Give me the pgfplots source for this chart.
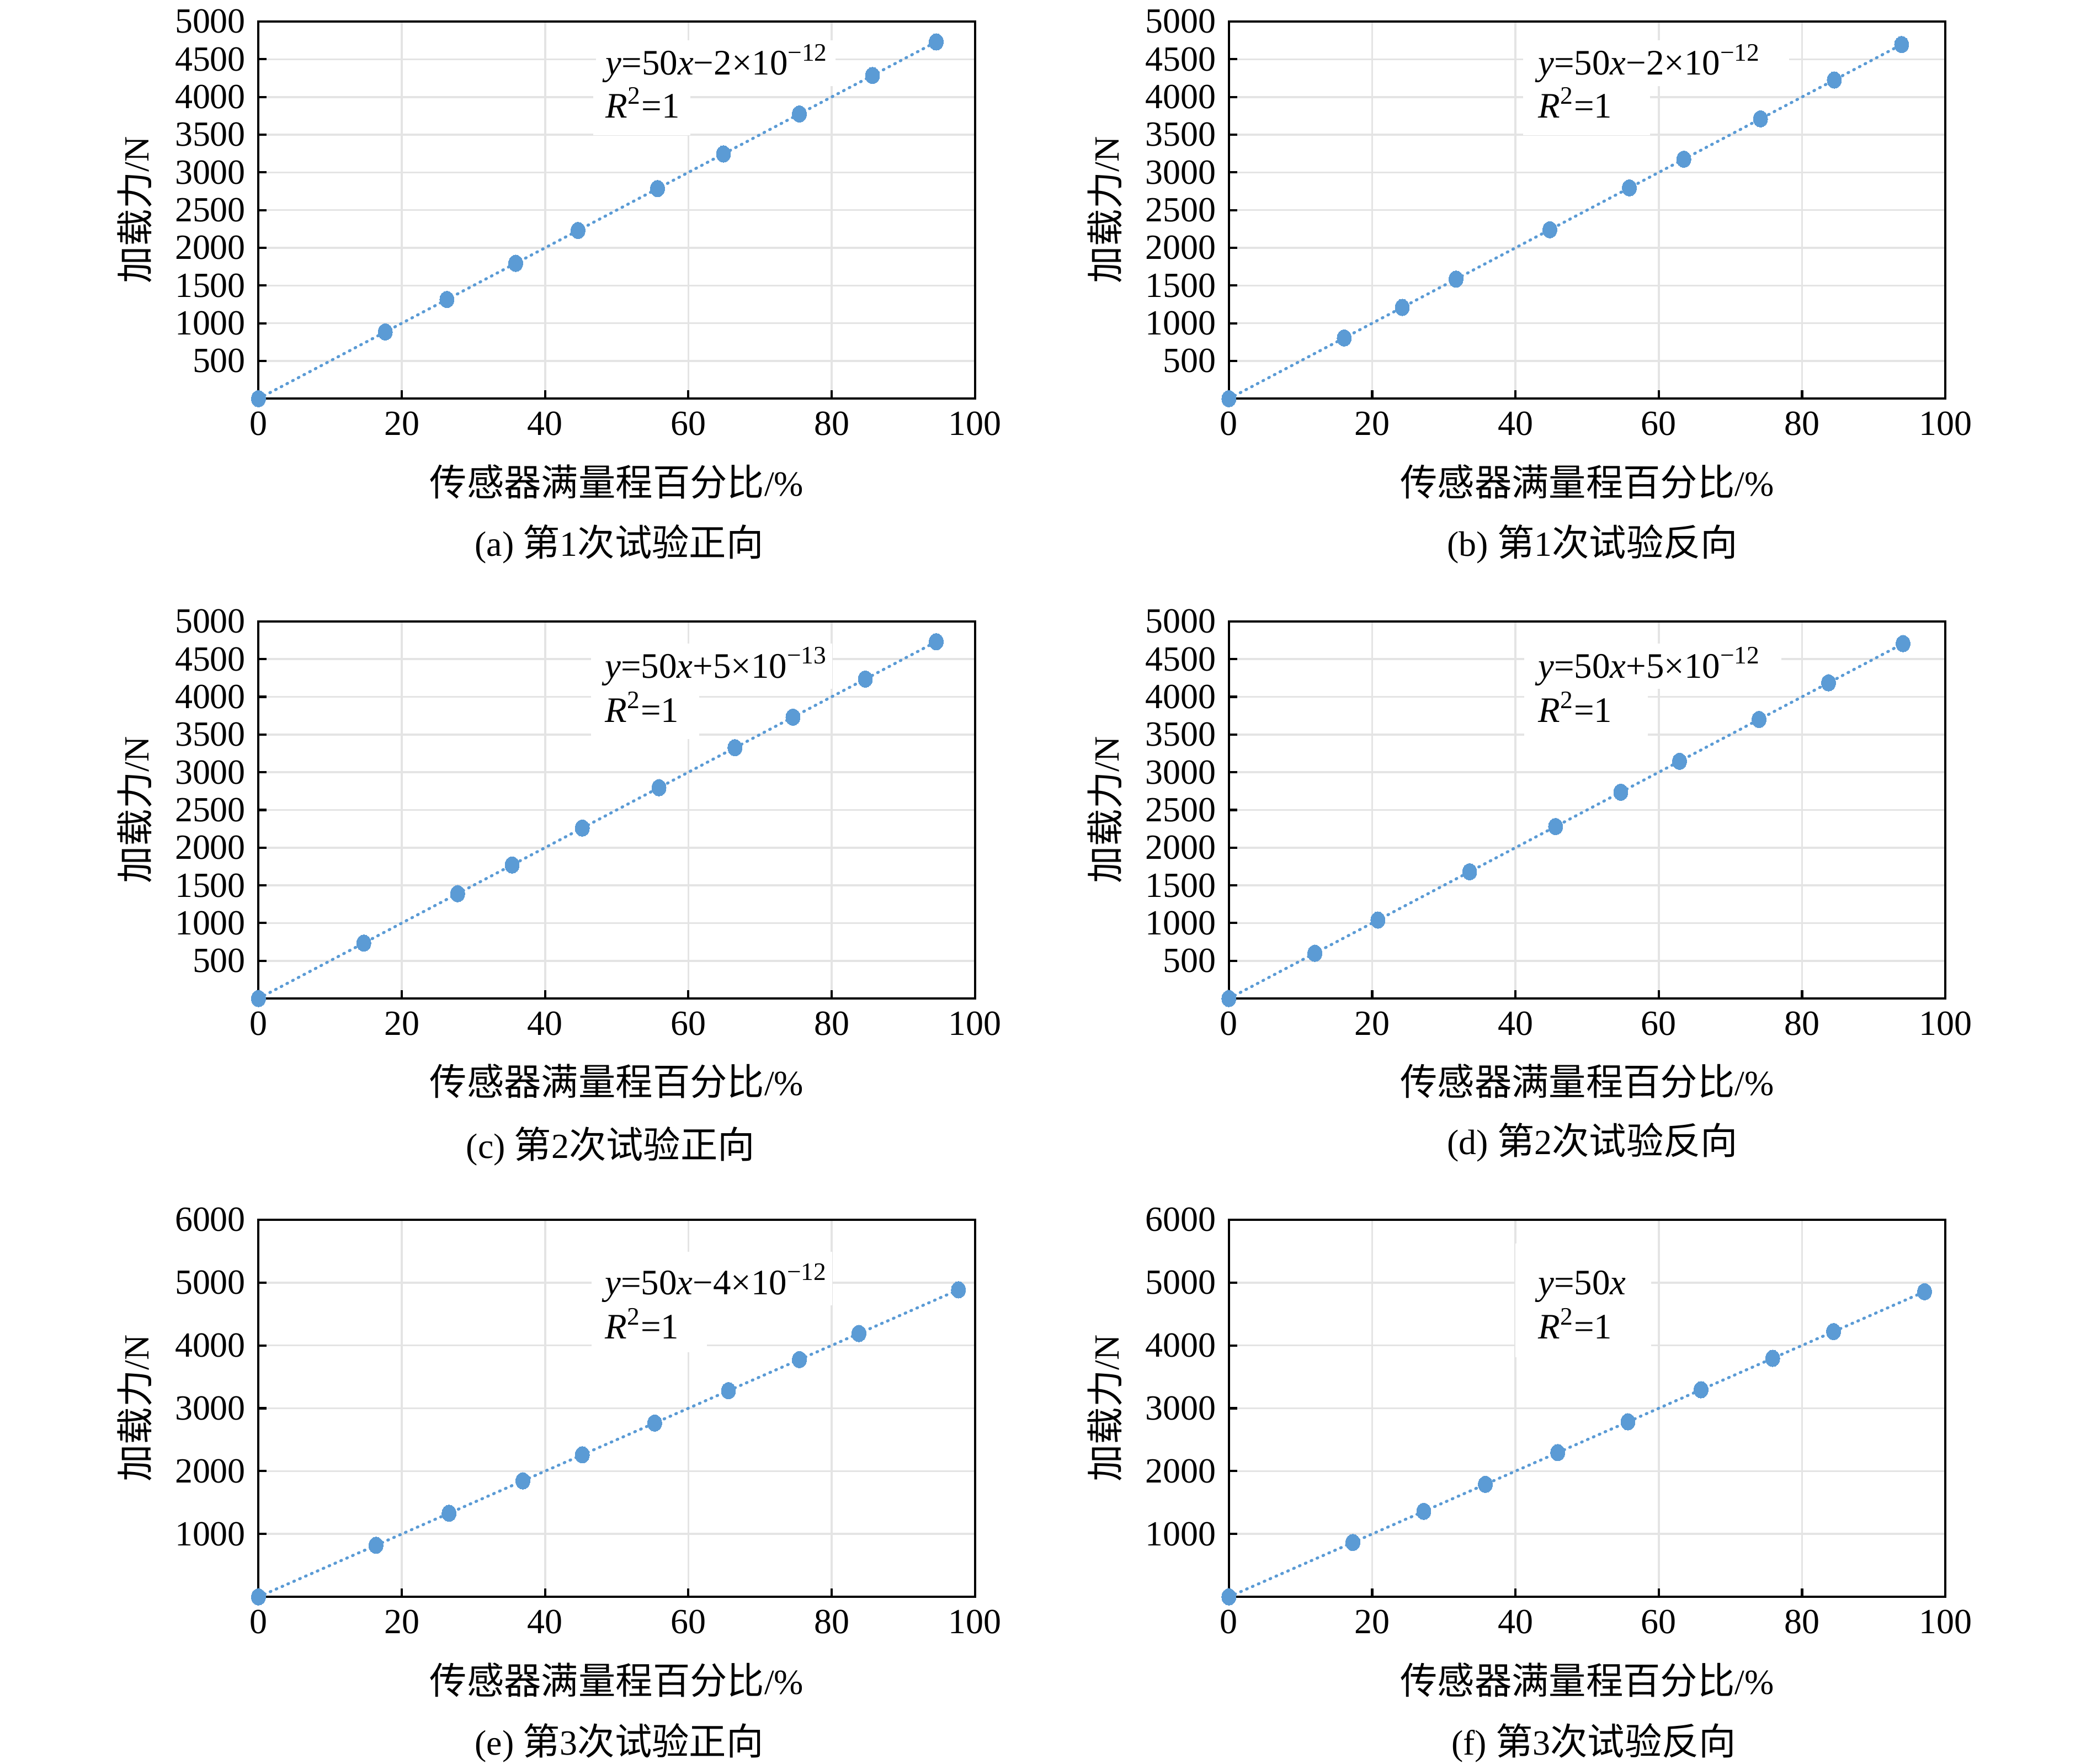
\documentclass[border=0pt]{standalone}
\usepackage{fontspec}
\setmainfont{Liberation Serif}
\newfontfamily\cjk{Noto Sans CJK SC}[Scale=1.053]
\usepackage{pgfplots}
\pgfplotsset{compat=1.18}
\definecolor{myblue}{HTML}{5B9BD5}
\definecolor{mygrid}{HTML}{E4E4E4}
\newcommand{\fs}{\fontsize{13.2}{16}\selectfont}
\newcommand{\fe}{\fontsize{13.4}{16}\selectfont}
\pgfplotsset{
  panel/.style={
    scale only axis, width=267.9pt, height=141pt,
    anchor=north west,
    xmin=0, xmax=100, ymin=0,
    xtick={0,20,...,100},
    grid=major, major grid style={mygrid, line width=0.75pt},
    axis line style={line width=0.85pt, black},
    tick style={line width=0.85pt, black},
    major tick length=3.1pt,
    tick align=inside, tick pos=left,
    font=\fs,
    /pgf/number format/assume math mode=true,
    /pgf/number format/1000 sep={},
    xticklabel style={yshift=-1.4pt},
    yticklabel style={xshift=-1.3pt},
    xlabel={{\cjk 传感器满量程百分比}/\%},
    ylabel={{\cjk 加载力}/N},
    xlabel style={at={(axis description cs:0.5,-0.22)}, anchor=center, font=\fs},
    ylabel style={at={(axis description cs:-0.173,0.5)}, anchor=center, font=\fs},
    clip mode=individual,
  },
  five/.style={ymax=5000, ytick={500,1000,...,5000}},
  six/.style={ymax=6000, ytick={1000,2000,...,6000}},
  trend/.style={myblue, line width=1.1pt, line cap=round, dash pattern=on 0.3pt off 2.1pt,
    mark=*, mark size=2.9pt, mark options={solid, fill=myblue, draw=myblue, line width=0pt, xscale=0.92, yscale=1.08}},
}
\begin{document}
\begin{tikzpicture}
\path[use as bounding box] (0,0) rectangle (780pt,-659.3pt);

% (a)
\begin{axis}[panel, five, at={(96.65pt,-8.05pt)}]
\fill[white] (axis cs:47.1,4145) rectangle (axis cs:80.5,4750);
\fill[white] (axis cs:46.7,3493) rectangle (axis cs:60.3,4145);
\addplot[trend] coordinates {(0,0) (17.7,885) (26.3,1315) (35.9,1795) (44.6,2230) (55.7,2785) (64.9,3245) (75.5,3775) (85.7,4285) (94.6,4730)};
\node[anchor=base west, inner sep=0pt, font=\fe] at (axis cs:48.4,4292) {\textit{y}=50\textit{x}−2×10\textsuperscript{−12}};
\node[anchor=base west, inner sep=0pt, font=\fe] at (axis cs:48.4,3722) {\textit{R}\textsuperscript{2}=1};
\end{axis}

% (b)
\begin{axis}[panel, five, at={(459.5pt,-8.05pt)}]
\fill[white] (axis cs:41.1,4145) rectangle (axis cs:78.2,4750);
\fill[white] (axis cs:41.1,3493) rectangle (axis cs:58.8,4145);
\addplot[trend] coordinates {(0,0) (16.1,805) (24.2,1210) (31.7,1585) (44.8,2240) (55.9,2795) (63.5,3175) (74.2,3710) (84.5,4225) (93.9,4695)};
\node[anchor=base west, inner sep=0pt, font=\fe] at (axis cs:43.1,4292) {\textit{y}=50\textit{x}−2×10\textsuperscript{−12}};
\node[anchor=base west, inner sep=0pt, font=\fe] at (axis cs:43.1,3722) {\textit{R}\textsuperscript{2}=1};
\end{axis}

% (c)
\begin{axis}[panel, five, at={(96.65pt,-232.3pt)}]
\fill[white] (axis cs:46.4,4104) rectangle (axis cs:80.1,4706);
\fill[white] (axis cs:46.4,3437) rectangle (axis cs:61.5,4104);
\addplot[trend] coordinates {(0,0) (14.7,735) (27.8,1390) (35.4,1770) (45.2,2260) (55.9,2795) (66.5,3325) (74.6,3730) (84.7,4235) (94.6,4730)};
\node[anchor=base west, inner sep=0pt, font=\fe] at (axis cs:48.3,4250) {\textit{y}=50\textit{x}+5×10\textsuperscript{−13}};
\node[anchor=base west, inner sep=0pt, font=\fe] at (axis cs:48.3,3662) {\textit{R}\textsuperscript{2}=1};
\end{axis}

% (d)
\begin{axis}[panel, five, at={(459.5pt,-232.3pt)}]
\fill[white] (axis cs:41.2,4104) rectangle (axis cs:77.1,4706);
\fill[white] (axis cs:41.2,3437) rectangle (axis cs:58.5,4104);
\addplot[trend] coordinates {(0,0) (12.0,600) (20.8,1040) (33.6,1680) (45.6,2280) (54.7,2735) (62.9,3145) (74.0,3700) (83.7,4185) (94.1,4705)};
\node[anchor=base west, inner sep=0pt, font=\fe] at (axis cs:43.1,4250) {\textit{y}=50\textit{x}+5×10\textsuperscript{−12}};
\node[anchor=base west, inner sep=0pt, font=\fe] at (axis cs:43.1,3662) {\textit{R}\textsuperscript{2}=1};
\end{axis}

% (e)
\begin{axis}[panel, six, at={(96.65pt,-456pt)}]
\fill[white] (axis cs:46.5,4638) rectangle (axis cs:80.1,5489);
\fill[white] (axis cs:46.5,3895) rectangle (axis cs:62.6,4638);
\addplot[trend] coordinates {(0,0) (16.4,820) (26.6,1330) (36.9,1845) (45.2,2260) (55.3,2765) (65.6,3280) (75.5,3775) (83.8,4190) (97.7,4885)};
\node[anchor=base west, inner sep=0pt, font=\fe] at (axis cs:48.3,4813) {\textit{y}=50\textit{x}−4×10\textsuperscript{−12}};
\node[anchor=base west, inner sep=0pt, font=\fe] at (axis cs:48.3,4108) {\textit{R}\textsuperscript{2}=1};
\end{axis}

% (f)
\begin{axis}[panel, six, at={(459.5pt,-456pt)}]
\fill[white] (axis cs:40.0,3809) rectangle (axis cs:58.9,5622);
\addplot[trend] coordinates {(0,0) (17.3,865) (27.2,1360) (35.8,1790) (45.9,2295) (55.7,2785) (65.9,3295) (75.9,3795) (84.4,4220) (97.1,4855)};
\node[anchor=base west, inner sep=0pt, font=\fe] at (axis cs:43.1,4813) {\textit{y}=50\textit{x}};
\node[anchor=base west, inner sep=0pt, font=\fe] at (axis cs:43.1,4108) {\textit{R}\textsuperscript{2}=1};
\end{axis}

% captions
\node[font=\fs] at (231.5pt,-203.5pt) {(a) {\cjk 第}1{\cjk 次试验正向}};
\node[font=\fs] at (595.5pt,-203.5pt) {(b) {\cjk 第}1{\cjk 次试验反向}};
\node[font=\fs] at (228.3pt,-428.5pt) {(c) {\cjk 第}2{\cjk 次试验正向}};
\node[font=\fs] at (595.5pt,-427pt) {(d) {\cjk 第}2{\cjk 次试验反向}};
\node[font=\fs] at (231.5pt,-651.5pt) {(e) {\cjk 第}3{\cjk 次试验正向}};
\node[font=\fs] at (596pt,-651.5pt) {(f) {\cjk 第}3{\cjk 次试验反向}};
\end{tikzpicture}
\end{document}
